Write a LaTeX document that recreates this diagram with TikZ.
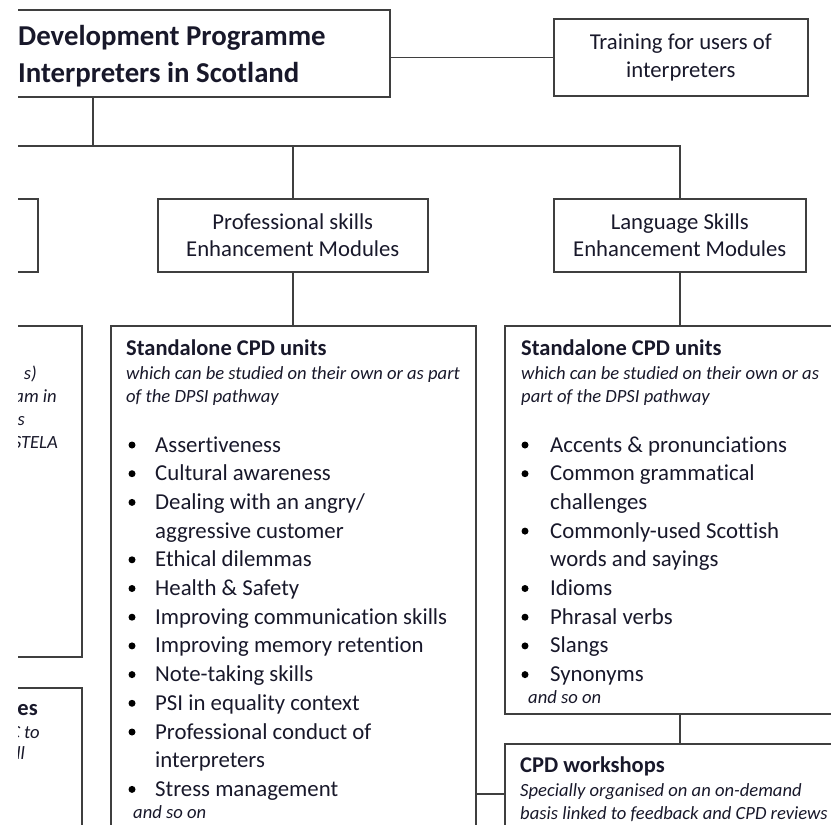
\documentclass[tikz,border=0pt]{standalone}
\usepackage{fontspec}
\setmainfont{Carlito}[Ligatures=NoCommon]
\definecolor{linegray}{HTML}{3F3F3F}
\definecolor{ink}{HTML}{18182A}
\begin{document}
\begin{tikzpicture}[x=1pt,y=-1pt,
  box/.style={draw=linegray, line width=1.6pt, rectangle, inner sep=0pt, anchor=north west, text=ink},
  headbox/.style={box, align=center, font=\fontsize{22.7}{27.5}\selectfont},
  conn/.style={draw=linegray, line width=1.6pt},
  titletext/.style={anchor=base west, inner sep=0pt, text=ink, font=\bfseries\fontsize{28.8}{37}\selectfont},
  unithead/.style={anchor=base west, inner sep=0pt, text=ink, font=\bfseries\fontsize{22.5}{23}\selectfont},
  note/.style={anchor=base west, inner sep=0pt, text=ink, font=\itshape\fontsize{18.6}{23}\selectfont},
  noteend/.style={note, anchor=base east},
  entry/.style={anchor=base west, inner sep=0pt, text=ink, font=\fontsize{22.8}{28.7}\selectfont},
  dot/.style={circle, fill=black, inner sep=0pt, minimum size=7pt}
]
\useasboundingbox (0,0) rectangle (831,825);
\begin{scope}
\clip (18,0) rectangle (831,825);

% boxes
\node[box, minimum width=419pt, minimum height=87pt] (title) at (-30,9) {};
\node[headbox, minimum width=254pt, minimum height=77pt] (train) at (553,18) {Training for users of\\interpreters};
\node[box, minimum width=77pt, minimum height=73pt] (lhead) at (-40,198) {};
\node[headbox, minimum width=270pt, minimum height=73pt] (prof) at (157,198) {Professional skills\\Enhancement Modules};
\node[headbox, minimum width=252pt, minimum height=73pt] (lang) at (553,198) {Language Skills\\Enhancement Modules};
\node[box, minimum width=181pt, minimum height=331pt] (lmid) at (-100,325) {};
\node[box, minimum width=181pt, minimum height=200pt] (lbot) at (-100,687) {};
\node[box, minimum width=365pt, minimum height=560pt] (sa1) at (110,325) {};
\node[box, minimum width=400pt, minimum height=388pt] (sa2) at (504,325) {};
\node[box, minimum width=400pt, minimum height=200pt] (cpd) at (504,743) {};

% title text
\node[titletext] (t1) at (18,45) {Development Programme};
\node[titletext] (t2) at (18,82) {Interpreters in Scotland};

% connectors
\coordinate (busL) at (-30,146);
\coordinate (drop) at (93,0);
\coordinate (cpdlink) at (0,794);
\draw[conn] (train.west) -- (train.west -| title.east);
\draw[conn] (drop |- title.south) -- (drop |- busL);
\draw[conn] (busL) -- (busL -| lang.north) -- (lang.north);
\draw[conn] (prof.north) -- (prof.north |- busL);
\draw[conn] (prof.south) -- (prof.south |- sa1.north);
\draw[conn] (lang.south) -- (lang.south |- sa2.north);
\draw[conn] (lang.south |- sa2.south) -- (lang.south |- cpd.north);
\draw[conn] (sa1.east |- cpdlink) -- (cpd.west |- cpdlink);

% left column fragments
\node[noteend] (lm1) at (37,379) {s)};
\node[noteend] (lm2) at (57,402) {am in};
\node[noteend] (lm3) at (25,425) {s};
\node[noteend] (lm4) at (58,448) {STELA};
\node[unithead, anchor=base east] (lb1) at (38,715) {es};
\node[noteend] (lb2) at (40,738) {C to};
\node[noteend] (lb3) at (25,759) {ll};

% professional skills units
\node[unithead] (sa1h) at (126,355) {Standalone CPD units};
\node[note] (sa1n1) at (126,379) {which can be studied on their own or as part};
\node[note] (sa1n2) at (126,402) {of the DPSI pathway};
\foreach \t [count=\i] in {Assertiveness, Cultural awareness, Dealing with an angry/,
    aggressive customer, Ethical dilemmas, Health \& Safety, Improving communication skills,
    Improving memory retention, Note-taking skills, PSI in equality context,
    Professional conduct of, interpreters, Stress management}
  \node[entry] (pl\i) at (155,{452+28.7*(\i-1)}) {\t};
\foreach \i in {1,2,3,5,6,7,8,9,10,11,13}
  \node[dot] (pd\i) at (132,{445+28.7*(\i-1)}) {};
\node[note] (sa1end) at (133,818) {and so on};

% language skills units
\node[unithead] (sa2h) at (521,355) {Standalone CPD units};
\node[note] (sa2n1) at (521,379) {which can be studied on their own or as};
\node[note] (sa2n2) at (521,402) {part of the DPSI pathway};
\foreach \t [count=\i] in {Accents \& pronunciations, Common grammatical, challenges,
    Commonly-used Scottish, words and sayings, Idioms, Phrasal verbs, Slangs, Synonyms}
  \node[entry] (ll\i) at (550,{452+28.7*(\i-1)}) {\t};
\foreach \i in {1,2,4,6,7,8,9}
  \node[dot] (ld\i) at (525,{445+28.7*(\i-1)}) {};
\node[note] (sa2end) at (528,703) {and so on};

% workshops
\node[unithead] (cpdh) at (520,772) {CPD workshops};
\node[note] (cpdn1) at (520,796) {Specially organised on an on-demand};
\node[note] (cpdn2) at (520,819) {basis linked to feedback and CPD reviews};
\end{scope}
\end{tikzpicture}
\end{document}
